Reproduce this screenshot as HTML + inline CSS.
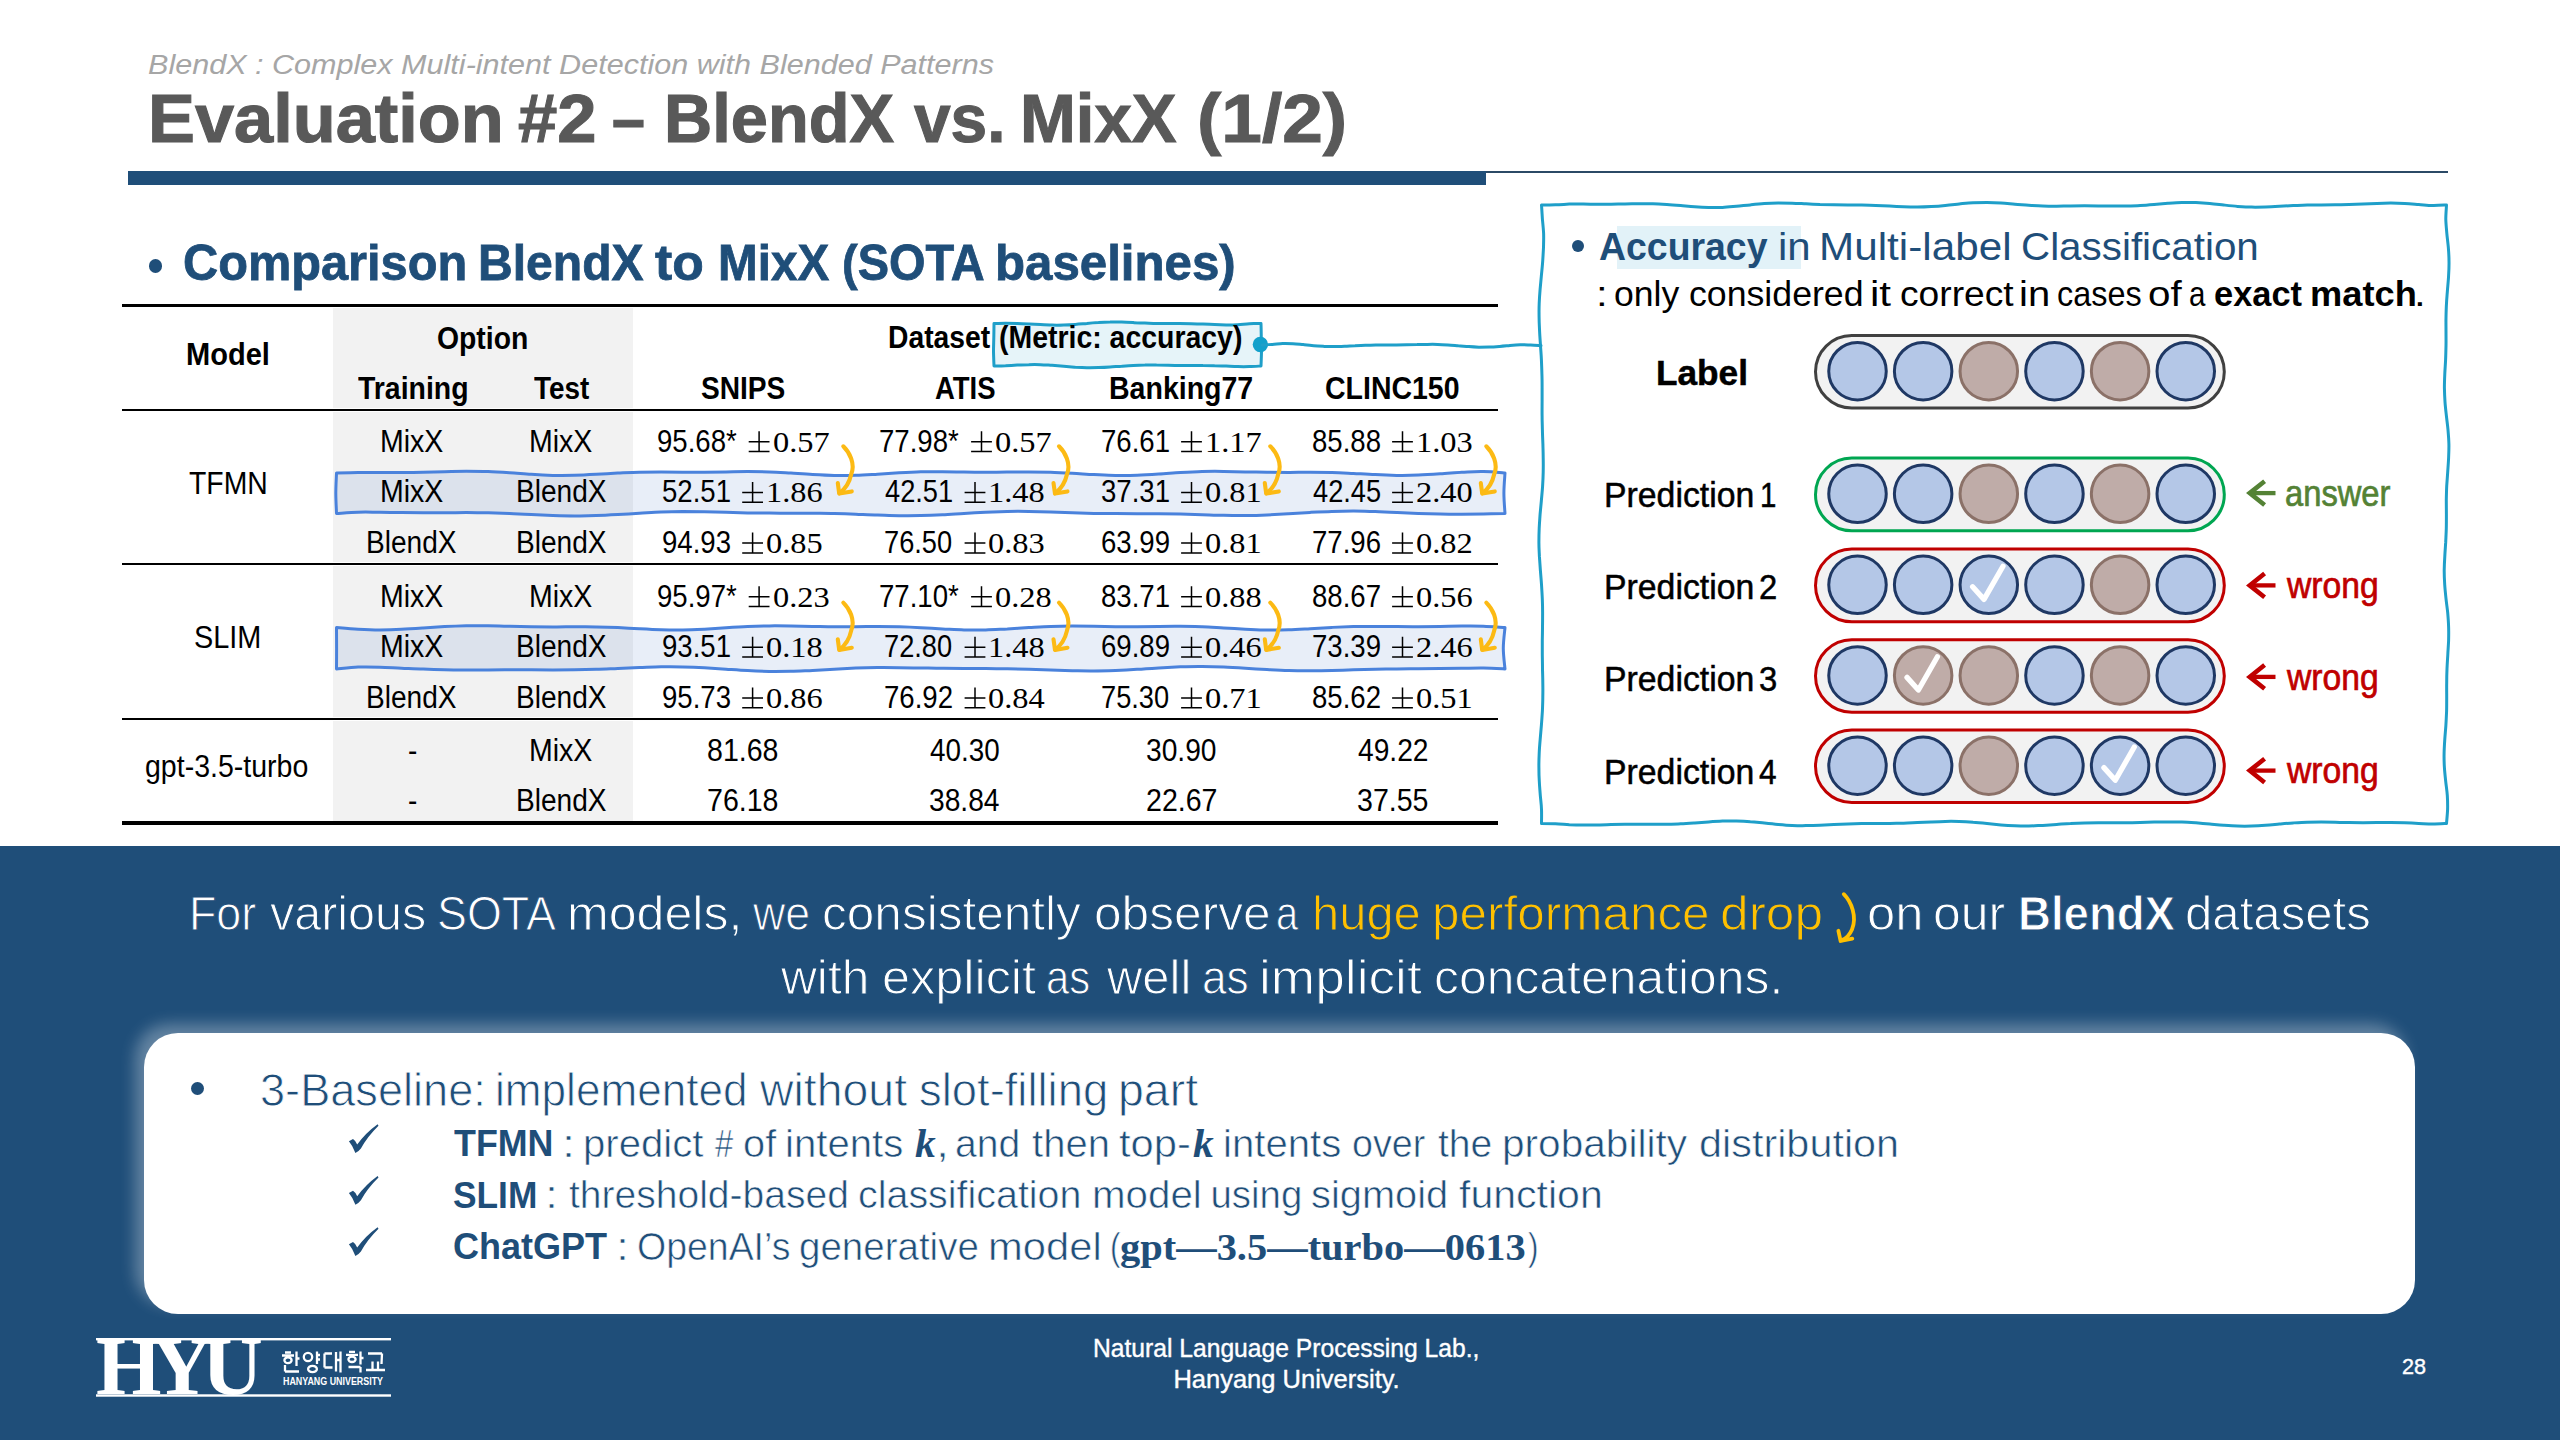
<!DOCTYPE html>
<html lang="en"><head><meta charset="utf-8"><title>Evaluation #2 – BlendX vs. MixX (1/2)</title>
<style>
html,body{margin:0;padding:0;background:#fff}
body{width:2560px;height:1440px;position:relative;overflow:hidden;font-family:"Liberation Sans",sans-serif}
.t{position:absolute;white-space:nowrap;line-height:1;transform-origin:0 0;display:block}
.se{font-family:"Liberation Serif",serif}
.tk1{-webkit-text-stroke:1.1px #595959}
.tk2{-webkit-text-stroke:0.8px #1f4e79}
.thin-b2{-webkit-text-stroke:0.9px #1f4e79}
.tk3{-webkit-text-stroke:0.7px}
.tk5{-webkit-text-stroke:0.5px}
.tk4{-webkit-text-stroke:0.4px}
.thin-b{-webkit-text-stroke:1px #1f4e79}
.thin-w{-webkit-text-stroke:0.85px #fff}
.thin-w2{-webkit-text-stroke:0.6px #fff}
svg.ov{position:absolute;left:0;top:0}
</style></head><body>
<div style="position:absolute;left:128px;top:170.5px;width:1358px;height:14px;background:#1f4e79"></div>
<div style="position:absolute;left:1486px;top:170.5px;width:962px;height:2px;background:#2b4a66"></div>
<div style="position:absolute;left:148.8px;top:259.4px;width:13.2px;height:13.2px;border-radius:50%;background:#1f4e79"></div>
<div style="position:absolute;left:333px;top:308px;width:299.5px;height:513.6px;background:#f2f2f2"></div>
<div style="position:absolute;left:333px;top:407.65000000000003px;width:299.5px;height:4.6px;background:#fff"></div>
<div style="position:absolute;left:333px;top:561.8499999999999px;width:299.5px;height:4.6px;background:#fff"></div>
<div style="position:absolute;left:333px;top:716.9px;width:299.5px;height:4.6px;background:#fff"></div>
<div style="position:absolute;left:122px;top:303.8px;width:1376px;height:3.3px;background:#000"></div>
<div style="position:absolute;left:122px;top:408.85px;width:1376px;height:2.2px;background:#000"></div>
<div style="position:absolute;left:122px;top:563.05px;width:1376px;height:2.2px;background:#000"></div>
<div style="position:absolute;left:122px;top:718.1px;width:1376px;height:2.2px;background:#000"></div>
<div style="position:absolute;left:122px;top:821.4px;width:1376px;height:3.4px;background:#000"></div>
<div style="position:absolute;left:1617px;top:226.3px;width:183.7px;height:43.2px;background:#e2f2f8"></div>
<div style="position:absolute;left:1572px;top:240.2px;width:11.8px;height:11.8px;border-radius:50%;background:#1f4e79"></div>
<div style="position:absolute;left:0;top:845.7px;width:2560px;height:594.3px;background:#1f4e79"></div>
<div style="position:absolute;left:143.8px;top:1032.8px;width:2271.4px;height:281.2px;border-radius:34px;background:#fff;box-shadow:-9px -9px 15px 0 rgba(255,255,255,.31)"></div>
<div style="position:absolute;left:191.2px;top:1082.3px;width:12.9px;height:12.9px;border-radius:50%;background:#1f4e79"></div>
<svg class="ov" width="2560" height="1440" viewBox="0 0 2560 1440">
<path d="M1541.5 205.0C1543.8 205.0 1550.8 205.0 1555.4 204.8C1560.1 204.7 1564.7 204.3 1569.3 204.1C1574.0 204.0 1578.6 204.0 1583.3 204.1C1587.9 204.1 1592.6 204.2 1597.2 204.2C1601.8 204.2 1606.5 204.2 1611.1 204.2C1615.8 204.2 1620.4 204.0 1625.0 204.0C1629.7 203.9 1634.3 203.8 1639.0 203.7C1643.6 203.7 1648.2 203.7 1652.9 203.8C1657.5 203.9 1662.2 204.2 1666.8 204.5C1671.4 204.8 1676.1 205.2 1680.7 205.6C1685.4 206.0 1690.0 206.5 1694.7 206.8C1699.3 207.2 1703.9 207.5 1708.6 207.6C1713.2 207.6 1717.9 207.6 1722.5 207.4C1727.1 207.2 1731.8 206.7 1736.4 206.3C1741.1 205.9 1745.7 205.3 1750.3 204.9C1755.0 204.4 1759.6 203.9 1764.3 203.6C1768.9 203.3 1773.6 203.1 1778.2 203.0C1782.8 203.0 1787.5 203.1 1792.1 203.2C1796.8 203.3 1801.4 203.6 1806.0 203.8C1810.7 204.0 1815.3 204.3 1820.0 204.5C1824.6 204.6 1829.2 204.7 1833.9 204.8C1838.5 204.9 1843.2 204.9 1847.8 204.9C1852.4 205.0 1857.1 204.9 1861.7 205.0C1866.4 205.1 1871.0 205.2 1875.7 205.4C1880.3 205.6 1884.9 205.9 1889.6 206.1C1894.2 206.3 1898.9 206.6 1903.5 206.8C1908.1 207.0 1912.8 207.1 1917.4 207.1C1922.1 207.1 1926.7 206.9 1931.3 206.6C1936.0 206.3 1940.6 205.9 1945.3 205.4C1949.9 205.0 1954.6 204.4 1959.2 203.9C1963.8 203.5 1968.5 203.0 1973.1 202.8C1977.8 202.5 1982.4 202.4 1987.0 202.4C1991.7 202.5 1996.3 202.7 2001.0 203.0C2005.6 203.3 2010.2 203.8 2014.9 204.2C2019.5 204.5 2024.2 205.0 2028.8 205.3C2033.4 205.6 2038.1 205.9 2042.7 206.0C2047.4 206.2 2052.0 206.2 2056.7 206.2C2061.3 206.2 2065.9 206.0 2070.6 206.0C2075.2 205.9 2079.9 205.8 2084.5 205.8C2089.1 205.8 2093.8 205.8 2098.4 205.9C2103.1 205.9 2107.7 206.0 2112.3 206.1C2117.0 206.1 2121.6 206.1 2126.3 206.0C2130.9 205.9 2135.6 205.8 2140.2 205.5C2144.8 205.3 2149.5 204.9 2154.1 204.5C2158.8 204.1 2163.4 203.7 2168.0 203.3C2172.7 203.0 2177.3 202.7 2182.0 202.5C2186.6 202.4 2191.2 202.4 2195.9 202.6C2200.5 202.8 2205.2 203.1 2209.8 203.5C2214.4 203.9 2219.1 204.5 2223.7 205.0C2228.4 205.5 2233.0 206.0 2237.7 206.4C2242.3 206.7 2246.9 207.0 2251.6 207.1C2256.2 207.2 2260.9 207.1 2265.5 207.0C2270.1 206.9 2274.8 206.6 2279.4 206.3C2284.1 206.1 2288.7 205.8 2293.3 205.6C2298.0 205.3 2302.6 205.2 2307.3 205.0C2311.9 204.9 2316.6 204.9 2321.2 204.9C2325.8 204.8 2330.5 204.8 2335.1 204.8C2339.8 204.8 2344.4 204.7 2349.0 204.6C2353.7 204.4 2358.3 204.2 2363.0 204.0C2367.6 203.8 2372.2 203.6 2376.9 203.4C2381.5 203.2 2386.2 203.1 2390.8 203.1C2395.4 203.1 2400.1 203.2 2404.7 203.4C2409.4 203.6 2414.0 204.1 2418.7 204.5C2423.3 204.8 2427.9 205.4 2432.6 205.5C2437.2 205.6 2444.2 205.1 2446.5 205.0L2446.5 205.0C2446.4 207.3 2445.8 214.4 2445.8 219.1C2445.9 223.7 2446.4 228.4 2446.8 233.1C2447.2 237.8 2447.9 242.5 2448.3 247.2C2448.7 251.9 2449.0 256.5 2449.0 261.2C2449.1 265.9 2448.9 270.6 2448.6 275.3C2448.4 280.0 2447.9 284.7 2447.5 289.3C2447.2 294.0 2446.7 298.7 2446.5 303.4C2446.2 308.1 2446.1 312.8 2446.0 317.5C2445.9 322.1 2446.0 326.8 2446.0 331.5C2446.0 336.2 2446.1 340.9 2446.0 345.6C2445.9 350.3 2445.8 354.9 2445.6 359.6C2445.4 364.3 2445.0 369.0 2444.8 373.7C2444.6 378.4 2444.4 383.1 2444.4 387.7C2444.5 392.4 2444.7 397.1 2445.0 401.8C2445.3 406.5 2445.9 411.2 2446.4 415.9C2446.9 420.5 2447.6 425.2 2448.0 429.9C2448.4 434.6 2448.8 439.3 2448.9 444.0C2449.0 448.7 2448.8 453.3 2448.6 458.0C2448.4 462.7 2448.0 467.4 2447.7 472.1C2447.4 476.8 2447.0 481.5 2446.7 486.1C2446.5 490.8 2446.4 495.5 2446.3 500.2C2446.3 504.9 2446.4 509.6 2446.4 514.2C2446.4 518.9 2446.4 523.6 2446.3 528.3C2446.2 533.0 2445.9 537.7 2445.7 542.4C2445.4 547.0 2445.0 551.7 2444.8 556.4C2444.5 561.1 2444.3 565.8 2444.2 570.5C2444.2 575.2 2444.4 579.8 2444.7 584.5C2445.0 589.2 2445.5 593.9 2446.0 598.6C2446.5 603.3 2447.2 608.0 2447.7 612.6C2448.1 617.3 2448.5 622.0 2448.6 626.7C2448.8 631.4 2448.7 636.1 2448.6 640.8C2448.4 645.4 2448.0 650.1 2447.8 654.8C2447.5 659.5 2447.2 664.2 2447.0 668.9C2446.8 673.6 2446.7 678.2 2446.7 682.9C2446.6 687.6 2446.7 692.3 2446.7 697.0C2446.7 701.7 2446.7 706.4 2446.6 711.0C2446.4 715.7 2446.2 720.4 2445.9 725.1C2445.6 729.8 2445.1 734.5 2444.8 739.2C2444.5 743.8 2444.2 748.5 2444.1 753.2C2444.0 757.9 2444.1 762.6 2444.4 767.3C2444.7 772.0 2445.2 776.6 2445.7 781.3C2446.2 786.0 2447.0 790.7 2447.3 795.4C2447.6 800.1 2447.7 804.8 2447.6 809.4C2447.4 814.1 2446.7 821.2 2446.5 823.5L2446.5 823.5C2444.2 823.6 2437.2 824.0 2432.6 824.0C2427.9 824.0 2423.3 823.6 2418.7 823.4C2414.0 823.2 2409.4 822.9 2404.7 822.7C2400.1 822.6 2395.4 822.5 2390.8 822.5C2386.2 822.5 2381.5 822.6 2376.9 822.6C2372.2 822.6 2367.6 822.7 2363.0 822.7C2358.3 822.7 2353.7 822.7 2349.0 822.6C2344.4 822.6 2339.8 822.4 2335.1 822.3C2330.5 822.2 2325.8 822.1 2321.2 822.1C2316.6 822.1 2311.9 822.1 2307.3 822.2C2302.6 822.3 2298.0 822.6 2293.3 822.9C2288.7 823.2 2284.1 823.6 2279.4 824.0C2274.8 824.4 2270.1 824.9 2265.5 825.2C2260.9 825.6 2256.2 825.9 2251.6 826.0C2246.9 826.2 2242.3 826.2 2237.7 826.0C2233.0 825.9 2228.4 825.6 2223.7 825.3C2219.1 825.0 2214.4 824.5 2209.8 824.1C2205.2 823.7 2200.5 823.2 2195.9 822.8C2191.2 822.5 2186.6 822.2 2182.0 822.1C2177.3 821.9 2172.7 821.9 2168.0 821.9C2163.4 821.9 2158.8 822.0 2154.1 822.1C2149.5 822.3 2144.8 822.4 2140.2 822.6C2135.6 822.7 2130.9 822.8 2126.3 822.8C2121.6 822.9 2117.0 822.8 2112.3 822.8C2107.7 822.8 2103.1 822.7 2098.4 822.8C2093.8 822.8 2089.1 822.8 2084.5 822.9C2079.9 823.0 2075.2 823.2 2070.6 823.5C2065.9 823.7 2061.3 824.1 2056.7 824.4C2052.0 824.7 2047.4 825.1 2042.7 825.4C2038.1 825.6 2033.4 825.9 2028.8 826.0C2024.2 826.0 2019.5 826.0 2014.9 825.8C2010.2 825.6 2005.6 825.3 2001.0 824.9C1996.3 824.5 1991.7 824.0 1987.0 823.6C1982.4 823.1 1977.8 822.6 1973.1 822.3C1968.5 821.9 1963.8 821.6 1959.2 821.5C1954.6 821.3 1949.9 821.3 1945.3 821.4C1940.6 821.5 1936.0 821.7 1931.3 821.9C1926.7 822.1 1922.1 822.4 1917.4 822.6C1912.8 822.8 1908.1 823.1 1903.5 823.2C1898.9 823.3 1894.2 823.4 1889.6 823.5C1884.9 823.5 1880.3 823.5 1875.7 823.5C1871.0 823.5 1866.4 823.5 1861.7 823.6C1857.1 823.7 1852.4 823.8 1847.8 823.9C1843.2 824.1 1838.5 824.4 1833.9 824.6C1829.2 824.8 1824.6 825.1 1820.0 825.3C1815.3 825.5 1810.7 825.6 1806.0 825.6C1801.4 825.7 1796.8 825.6 1792.1 825.4C1787.5 825.2 1782.8 824.8 1778.2 824.4C1773.6 824.0 1768.9 823.5 1764.3 823.0C1759.6 822.6 1755.0 822.1 1750.3 821.8C1745.7 821.4 1741.1 821.2 1736.4 821.1C1731.8 821.0 1727.1 821.0 1722.5 821.1C1717.9 821.3 1713.2 821.6 1708.6 821.9C1703.9 822.2 1699.3 822.6 1694.7 822.9C1690.0 823.2 1685.4 823.5 1680.7 823.7C1676.1 824.0 1671.4 824.1 1666.8 824.2C1662.2 824.3 1657.5 824.2 1652.9 824.2C1648.2 824.2 1643.6 824.2 1639.0 824.2C1634.3 824.2 1629.7 824.2 1625.0 824.2C1620.4 824.3 1615.8 824.4 1611.1 824.5C1606.5 824.7 1601.8 824.9 1597.2 825.0C1592.6 825.0 1587.9 825.2 1583.3 825.1C1578.6 825.1 1574.0 825.0 1569.3 824.8C1564.7 824.5 1560.1 823.9 1555.4 823.7C1550.8 823.5 1543.8 823.5 1541.5 823.5L1541.5 823.5C1541.5 821.2 1541.7 814.1 1541.5 809.4C1541.4 804.8 1540.7 800.1 1540.3 795.4C1540.0 790.7 1539.5 786.0 1539.3 781.3C1539.0 776.6 1538.9 772.0 1538.9 767.3C1538.8 762.6 1539.0 757.9 1539.2 753.2C1539.4 748.5 1539.8 743.8 1540.2 739.2C1540.6 734.5 1541.0 729.8 1541.4 725.1C1541.8 720.4 1542.1 715.7 1542.4 711.0C1542.6 706.4 1542.8 701.7 1542.8 697.0C1542.9 692.3 1542.9 687.6 1542.8 682.9C1542.8 678.2 1542.6 673.6 1542.5 668.9C1542.5 664.2 1542.4 659.5 1542.3 654.8C1542.3 650.1 1542.3 645.4 1542.3 640.8C1542.4 636.1 1542.5 631.4 1542.5 626.7C1542.6 622.0 1542.6 617.3 1542.6 612.6C1542.6 608.0 1542.5 603.3 1542.3 598.6C1542.1 593.9 1541.8 589.2 1541.5 584.5C1541.2 579.8 1540.8 575.2 1540.4 570.5C1540.1 565.8 1539.7 561.1 1539.4 556.4C1539.2 551.7 1538.9 547.0 1538.9 542.4C1538.9 537.7 1539.0 533.0 1539.2 528.3C1539.4 523.6 1539.8 518.9 1540.1 514.2C1540.5 509.6 1541.0 504.9 1541.4 500.2C1541.8 495.5 1542.3 490.8 1542.6 486.1C1542.9 481.5 1543.1 476.8 1543.2 472.1C1543.3 467.4 1543.3 462.7 1543.2 458.0C1543.2 453.3 1543.0 448.7 1542.9 444.0C1542.7 439.3 1542.5 434.6 1542.4 429.9C1542.3 425.2 1542.1 420.5 1542.1 415.9C1542.0 411.2 1542.1 406.5 1542.1 401.8C1542.1 397.1 1542.1 392.4 1542.1 387.7C1542.1 383.1 1542.1 378.4 1541.9 373.7C1541.8 369.0 1541.6 364.3 1541.4 359.6C1541.2 354.9 1540.8 350.3 1540.5 345.6C1540.2 340.9 1539.8 336.2 1539.6 331.5C1539.4 326.8 1539.1 322.1 1539.1 317.5C1539.0 312.8 1539.0 308.1 1539.2 303.4C1539.4 298.7 1539.7 294.0 1540.1 289.3C1540.5 284.7 1541.0 280.0 1541.4 275.3C1541.9 270.6 1542.4 265.9 1542.7 261.2C1543.0 256.5 1543.3 251.9 1543.5 247.2C1543.6 242.5 1543.8 237.8 1543.6 233.1C1543.4 228.4 1542.8 223.7 1542.4 219.1C1542.1 214.4 1541.7 207.3 1541.5 205.0Z" fill="none" stroke="#1f9fc9" stroke-width="3" stroke-linecap="round" stroke-linejoin="round" />
<path d="M994.0 323.5C995.9 323.5 1001.7 323.3 1005.6 323.3C1009.5 323.3 1013.3 323.3 1017.2 323.4C1021.1 323.5 1025.0 323.7 1028.8 323.9C1032.7 324.1 1036.6 324.4 1040.4 324.6C1044.3 324.8 1048.2 325.0 1052.0 325.1C1055.9 325.2 1059.8 325.2 1063.7 325.0C1067.5 324.9 1071.4 324.7 1075.3 324.4C1079.1 324.2 1083.0 323.8 1086.9 323.5C1090.7 323.1 1094.6 322.8 1098.5 322.6C1102.3 322.3 1106.2 322.1 1110.1 322.1C1114.0 322.0 1117.8 322.1 1121.7 322.1C1125.6 322.2 1129.4 322.4 1133.3 322.6C1137.2 322.8 1141.0 323.0 1144.9 323.1C1148.8 323.2 1152.7 323.4 1156.5 323.4C1160.4 323.5 1164.3 323.5 1168.1 323.5C1172.0 323.5 1175.9 323.5 1179.7 323.5C1183.6 323.6 1187.5 323.6 1191.3 323.7C1195.2 323.8 1199.1 324.0 1203.0 324.1C1206.8 324.3 1210.7 324.5 1214.6 324.6C1218.4 324.8 1222.3 324.9 1226.2 324.9C1230.0 324.9 1233.9 324.9 1237.8 324.7C1241.7 324.5 1245.5 323.9 1249.4 323.7C1253.3 323.6 1259.1 323.5 1261.0 323.5L1261.0 323.5C1261.1 325.9 1261.2 332.9 1261.3 337.7C1261.4 342.4 1261.5 347.1 1261.5 351.8C1261.4 356.6 1261.1 363.6 1261.0 366.0L1261.0 366.0C1259.1 366.1 1253.3 366.5 1249.4 366.6C1245.5 366.7 1241.7 366.7 1237.8 366.6C1233.9 366.5 1230.0 366.2 1226.2 366.0C1222.3 365.9 1218.4 365.7 1214.6 365.7C1210.7 365.6 1206.8 365.6 1203.0 365.6C1199.1 365.5 1195.2 365.6 1191.3 365.6C1187.5 365.6 1183.6 365.5 1179.7 365.5C1175.9 365.5 1172.0 365.4 1168.1 365.3C1164.3 365.2 1160.4 365.1 1156.5 365.1C1152.7 365.0 1148.8 365.0 1144.9 365.1C1141.0 365.1 1137.2 365.2 1133.3 365.4C1129.4 365.6 1125.6 365.9 1121.7 366.2C1117.8 366.4 1114.0 366.8 1110.1 367.0C1106.2 367.3 1102.3 367.5 1098.5 367.6C1094.6 367.7 1090.7 367.8 1086.9 367.7C1083.0 367.6 1079.1 367.4 1075.3 367.2C1071.4 366.9 1067.5 366.5 1063.7 366.2C1059.8 365.9 1055.9 365.6 1052.0 365.3C1048.2 365.1 1044.3 364.8 1040.4 364.7C1036.6 364.6 1032.7 364.6 1028.8 364.7C1025.0 364.7 1021.1 364.9 1017.2 365.1C1013.3 365.3 1009.5 365.6 1005.6 365.8C1001.7 365.9 995.9 366.0 994.0 366.0L994.0 366.0C993.9 363.6 993.6 356.6 993.5 351.8C993.5 347.1 993.7 342.4 993.8 337.7C993.9 332.9 994.0 325.9 994.0 323.5Z" fill="rgba(31,159,201,0.11)" stroke="#1f9fc9" stroke-width="3" stroke-linecap="round" stroke-linejoin="round" />
<circle cx="1260.4" cy="344.5" r="7.7" fill="#12a0cb"/>
<path d="M1262.0 345.0C1263.7 344.9 1268.9 344.6 1272.3 344.4C1275.8 344.2 1279.2 343.7 1282.7 343.6C1286.1 343.5 1289.6 343.6 1293.0 343.7C1296.4 343.9 1299.9 344.3 1303.3 344.6C1306.8 345.0 1310.2 345.4 1313.7 345.7C1317.1 346.0 1320.6 346.2 1324.0 346.4C1327.4 346.5 1330.9 346.6 1334.3 346.6C1337.8 346.6 1341.2 346.4 1344.7 346.3C1348.1 346.2 1351.6 345.9 1355.0 345.8C1358.4 345.6 1361.9 345.4 1365.3 345.3C1368.8 345.2 1372.2 345.1 1375.7 345.0C1379.1 345.0 1382.6 345.0 1386.0 344.9C1389.4 344.9 1392.9 344.9 1396.3 344.9C1399.8 344.9 1403.2 344.9 1406.7 344.8C1410.1 344.7 1413.6 344.6 1417.0 344.6C1420.4 344.5 1423.9 344.4 1427.3 344.4C1430.8 344.3 1434.2 344.3 1437.7 344.4C1441.1 344.5 1444.6 344.7 1448.0 344.9C1451.4 345.1 1454.9 345.5 1458.3 345.8C1461.8 346.0 1465.2 346.4 1468.7 346.6C1472.1 346.9 1475.6 347.1 1479.0 347.2C1482.4 347.2 1485.9 347.2 1489.3 347.1C1492.8 347.0 1496.2 346.7 1499.7 346.4C1503.1 346.2 1506.6 345.8 1510.0 345.5C1513.4 345.2 1516.9 344.9 1520.3 344.8C1523.8 344.7 1527.2 344.9 1530.7 345.0C1534.1 345.1 1539.3 345.5 1541.0 345.6" fill="none" stroke="#1f9fc9" stroke-width="3" stroke-linecap="round" stroke-linejoin="round" />
<path d="M336.5 473.0C340.1 472.9 350.9 472.7 358.1 472.6C365.4 472.5 372.6 472.4 379.8 472.4C387.0 472.4 394.2 472.5 401.4 472.5C408.6 472.4 415.8 472.4 423.1 472.2C430.3 472.1 437.5 471.8 444.7 471.7C451.9 471.5 459.1 471.3 466.3 471.3C473.5 471.3 480.8 471.3 488.0 471.6C495.2 471.8 502.4 472.3 509.6 472.8C516.8 473.2 524.0 473.9 531.2 474.3C538.5 474.8 545.7 475.2 552.9 475.4C560.1 475.5 567.3 475.5 574.5 475.3C581.7 475.1 589.0 474.7 596.2 474.3C603.4 473.9 610.6 473.4 617.8 473.0C625.0 472.7 632.2 472.3 639.4 472.2C646.7 472.0 653.9 472.0 661.1 472.0C668.3 472.1 675.5 472.2 682.7 472.2C689.9 472.2 697.1 472.3 704.4 472.2C711.6 472.1 718.8 472.0 726.0 471.9C733.2 471.8 740.4 471.6 747.6 471.6C754.9 471.6 762.1 471.7 769.3 471.9C776.5 472.1 783.7 472.6 790.9 473.0C798.1 473.5 805.3 474.1 812.6 474.5C819.8 474.9 827.0 475.3 834.2 475.4C841.4 475.6 848.6 475.5 855.8 475.3C863.0 475.1 870.3 474.6 877.5 474.2C884.7 473.8 891.9 473.2 899.1 472.8C906.3 472.4 913.5 472.0 920.8 471.8C928.0 471.7 935.2 471.7 942.4 471.7C949.6 471.7 956.8 471.9 964.0 472.0C971.2 472.1 978.5 472.2 985.7 472.2C992.9 472.2 1000.1 472.1 1007.3 472.1C1014.5 472.0 1021.7 471.9 1028.9 471.9C1036.2 471.9 1043.4 472.0 1050.6 472.2C1057.8 472.4 1065.0 472.8 1072.2 473.2C1079.4 473.6 1086.6 474.2 1093.9 474.6C1101.1 474.9 1108.3 475.3 1115.5 475.4C1122.7 475.6 1129.9 475.5 1137.1 475.2C1144.4 475.0 1151.6 474.5 1158.8 474.0C1166.0 473.6 1173.2 472.9 1180.4 472.5C1187.6 472.1 1194.8 471.7 1202.1 471.5C1209.3 471.3 1216.5 471.3 1223.7 471.4C1230.9 471.5 1238.1 471.7 1245.3 471.9C1252.5 472.0 1259.8 472.2 1267.0 472.3C1274.2 472.4 1281.4 472.4 1288.6 472.4C1295.8 472.4 1303.0 472.3 1310.2 472.3C1317.5 472.3 1324.7 472.4 1331.9 472.6C1339.1 472.7 1346.3 473.1 1353.5 473.4C1360.7 473.8 1368.0 474.3 1375.2 474.6C1382.4 475.0 1389.6 475.3 1396.8 475.4C1404.0 475.5 1411.2 475.4 1418.4 475.1C1425.7 474.8 1432.9 474.3 1440.1 473.8C1447.3 473.4 1454.5 472.6 1461.7 472.2C1468.9 471.9 1476.1 471.3 1483.4 471.5C1490.6 471.6 1501.4 472.7 1505.0 473.0L1505.0 473.0C1504.8 476.4 1503.9 486.5 1503.9 493.2C1503.9 500.0 1504.8 510.1 1505.0 513.5L1505.0 513.5C1501.4 513.6 1490.6 513.9 1483.4 514.0C1476.1 514.1 1468.9 514.2 1461.7 514.2C1454.5 514.2 1447.3 514.2 1440.1 514.0C1432.9 513.9 1425.7 513.7 1418.4 513.5C1411.2 513.2 1404.0 512.9 1396.8 512.6C1389.6 512.2 1382.4 511.8 1375.2 511.6C1368.0 511.4 1360.7 511.1 1353.5 511.1C1346.3 511.1 1339.1 511.2 1331.9 511.4C1324.7 511.6 1317.5 512.0 1310.2 512.4C1303.0 512.8 1295.8 513.3 1288.6 513.8C1281.4 514.2 1274.2 514.6 1267.0 514.9C1259.8 515.2 1252.5 515.4 1245.3 515.5C1238.1 515.5 1230.9 515.5 1223.7 515.3C1216.5 515.2 1209.3 514.9 1202.1 514.7C1194.8 514.5 1187.6 514.3 1180.4 514.1C1173.2 513.9 1166.0 513.8 1158.8 513.7C1151.6 513.7 1144.4 513.7 1137.1 513.7C1129.9 513.7 1122.7 513.7 1115.5 513.6C1108.3 513.6 1101.1 513.5 1093.9 513.4C1086.6 513.2 1079.4 513.0 1072.2 512.8C1065.0 512.5 1057.8 512.2 1050.6 512.0C1043.4 511.7 1036.2 511.5 1028.9 511.4C1021.7 511.3 1014.5 511.3 1007.3 511.4C1000.1 511.6 992.9 511.9 985.7 512.2C978.5 512.6 971.2 513.1 964.0 513.5C956.8 513.9 949.6 514.5 942.4 514.8C935.2 515.2 928.0 515.5 920.8 515.6C913.5 515.8 906.3 515.8 899.1 515.7C891.9 515.6 884.7 515.3 877.5 515.1C870.3 514.9 863.0 514.5 855.8 514.2C848.6 514.0 841.4 513.7 834.2 513.5C827.0 513.3 819.8 513.3 812.6 513.2C805.3 513.1 798.1 513.2 790.9 513.2C783.7 513.1 776.5 513.2 769.3 513.1C762.1 513.1 754.9 513.0 747.6 512.9C740.4 512.7 733.2 512.5 726.0 512.3C718.8 512.1 711.6 511.9 704.4 511.8C697.1 511.7 689.9 511.6 682.7 511.6C675.5 511.7 668.3 511.9 661.1 512.1C653.9 512.4 646.7 512.9 639.4 513.3C632.2 513.7 625.0 514.2 617.8 514.6C610.6 515.0 603.4 515.4 596.2 515.6C589.0 515.9 581.7 516.0 574.5 515.9C567.3 515.9 560.1 515.7 552.9 515.5C545.7 515.2 538.5 514.8 531.2 514.5C524.0 514.1 516.8 513.7 509.6 513.5C502.4 513.2 495.2 513.0 488.0 512.8C480.8 512.7 473.5 512.7 466.3 512.6C459.1 512.6 451.9 512.7 444.7 512.7C437.5 512.8 430.3 512.8 423.1 512.8C415.8 512.8 408.6 512.7 401.4 512.6C394.2 512.5 387.0 512.3 379.8 512.2C372.6 512.2 365.4 512.0 358.1 512.2C350.9 512.4 340.1 513.3 336.5 513.5L336.5 513.5C336.4 510.1 335.8 500.0 335.8 493.2C335.8 486.5 336.4 476.4 336.5 473.0Z" fill="rgba(68,114,196,0.12)" stroke="#4a82dc" stroke-width="3" stroke-linecap="round" stroke-linejoin="round" />
<path d="M336.5 627.5C340.1 627.8 350.9 628.8 358.1 629.2C365.4 629.6 372.6 629.9 379.8 629.9C387.0 629.9 394.2 629.7 401.4 629.3C408.6 629.0 415.8 628.5 423.1 628.0C430.3 627.6 437.5 627.0 444.7 626.6C451.9 626.2 459.1 625.9 466.3 625.7C473.5 625.6 480.8 625.7 488.0 625.8C495.2 625.8 502.4 626.1 509.6 626.3C516.8 626.5 524.0 626.7 531.2 626.8C538.5 626.9 545.7 626.9 552.9 626.9C560.1 627.0 567.3 626.8 574.5 626.8C581.7 626.8 589.0 626.8 596.2 626.9C603.4 627.1 610.6 627.3 617.8 627.6C625.0 627.9 632.2 628.4 639.4 628.7C646.7 629.1 653.9 629.5 661.1 629.7C668.3 629.9 675.5 630.0 682.7 629.9C689.9 629.8 697.1 629.5 704.4 629.2C711.6 628.8 718.8 628.2 726.0 627.8C733.2 627.3 740.4 626.8 747.6 626.5C754.9 626.2 762.1 626.0 769.3 625.9C776.5 625.8 783.7 625.9 790.9 626.0C798.1 626.1 805.3 626.4 812.6 626.5C819.8 626.6 827.0 626.8 834.2 626.8C841.4 626.8 848.6 626.7 855.8 626.7C863.0 626.6 870.3 626.5 877.5 626.5C884.7 626.5 891.9 626.6 899.1 626.8C906.3 627.0 913.5 627.3 920.8 627.7C928.0 628.1 935.2 628.6 942.4 629.0C949.6 629.3 956.8 629.7 964.0 629.9C971.2 630.0 978.5 630.1 985.7 629.9C992.9 629.7 1000.1 629.3 1007.3 629.0C1014.5 628.6 1021.7 628.0 1028.9 627.6C1036.2 627.2 1043.4 626.7 1050.6 626.5C1057.8 626.3 1065.0 626.2 1072.2 626.1C1079.4 626.1 1086.6 626.3 1093.9 626.3C1101.1 626.4 1108.3 626.6 1115.5 626.7C1122.7 626.7 1129.9 626.7 1137.1 626.7C1144.4 626.6 1151.6 626.5 1158.8 626.4C1166.0 626.3 1173.2 626.2 1180.4 626.3C1187.6 626.3 1194.8 626.5 1202.1 626.7C1209.3 627.0 1216.5 627.5 1223.7 627.9C1230.9 628.3 1238.1 628.8 1245.3 629.2C1252.5 629.5 1259.8 629.9 1267.0 630.0C1274.2 630.1 1281.4 630.0 1288.6 629.8C1295.8 629.6 1303.0 629.1 1310.2 628.7C1317.5 628.3 1324.7 627.8 1331.9 627.4C1339.1 627.1 1346.3 626.8 1353.5 626.6C1360.7 626.4 1368.0 626.4 1375.2 626.4C1382.4 626.4 1389.6 626.6 1396.8 626.6C1404.0 626.7 1411.2 626.8 1418.4 626.7C1425.7 626.7 1432.9 626.6 1440.1 626.5C1447.3 626.4 1454.5 626.1 1461.7 626.1C1468.9 626.0 1476.1 626.0 1483.4 626.2C1490.6 626.5 1501.4 627.3 1505.0 627.5L1505.0 627.5C1504.7 631.0 1503.3 641.3 1503.3 648.2C1503.3 655.2 1504.7 665.5 1505.0 669.0L1505.0 669.0C1501.4 668.8 1490.6 668.1 1483.4 668.0C1476.1 667.9 1468.9 668.2 1461.7 668.3C1454.5 668.4 1447.3 668.5 1440.1 668.6C1432.9 668.7 1425.7 668.7 1418.4 668.8C1411.2 668.8 1404.0 668.8 1396.8 668.9C1389.6 669.0 1382.4 669.1 1375.2 669.2C1368.0 669.4 1360.7 669.6 1353.5 669.8C1346.3 670.0 1339.1 670.3 1331.9 670.5C1324.7 670.7 1317.5 670.8 1310.2 670.8C1303.0 670.8 1295.8 670.8 1288.6 670.6C1281.4 670.4 1274.2 670.0 1267.0 669.6C1259.8 669.2 1252.5 668.7 1245.3 668.3C1238.1 667.8 1230.9 667.3 1223.7 667.0C1216.5 666.7 1209.3 666.5 1202.1 666.5C1194.8 666.4 1187.6 666.6 1180.4 666.8C1173.2 667.1 1166.0 667.5 1158.8 667.9C1151.6 668.4 1144.4 668.9 1137.1 669.3C1129.9 669.8 1122.7 670.2 1115.5 670.5C1108.3 670.7 1101.1 670.9 1093.9 670.9C1086.6 671.0 1079.4 670.8 1072.2 670.7C1065.0 670.5 1057.8 670.3 1050.6 670.0C1043.4 669.8 1036.2 669.5 1028.9 669.3C1021.7 669.1 1014.5 668.9 1007.3 668.8C1000.1 668.7 992.9 668.7 985.7 668.6C978.5 668.6 971.2 668.6 964.0 668.5C956.8 668.5 949.6 668.4 942.4 668.3C935.2 668.3 928.0 668.1 920.8 668.0C913.5 667.9 906.3 667.7 899.1 667.7C891.9 667.6 884.7 667.5 877.5 667.6C870.3 667.7 863.0 667.9 855.8 668.1C848.6 668.4 841.4 668.8 834.2 669.2C827.0 669.6 819.8 670.0 812.6 670.4C805.3 670.7 798.1 671.1 790.9 671.3C783.7 671.4 776.5 671.5 769.3 671.4C762.1 671.3 754.9 671.0 747.6 670.6C740.4 670.3 733.2 669.7 726.0 669.2C718.8 668.8 711.6 668.2 704.4 667.8C697.1 667.4 689.9 667.1 682.7 666.9C675.5 666.7 668.3 666.7 661.1 666.8C653.9 666.9 646.7 667.2 639.4 667.4C632.2 667.7 625.0 668.1 617.8 668.4C610.6 668.7 603.4 669.1 596.2 669.3C589.0 669.5 581.7 669.7 574.5 669.8C567.3 669.9 560.1 669.9 552.9 669.9C545.7 669.9 538.5 669.9 531.2 669.8C524.0 669.8 516.8 669.8 509.6 669.8C502.4 669.8 495.2 669.8 488.0 669.9C480.8 669.9 473.5 669.9 466.3 669.9C459.1 669.9 451.9 669.9 444.7 669.7C437.5 669.6 430.3 669.4 423.1 669.1C415.8 668.9 408.6 668.5 401.4 668.2C394.2 667.9 387.0 667.4 379.8 667.2C372.6 667.0 365.4 666.8 358.1 667.1C350.9 667.4 340.1 668.7 336.5 669.0L336.5 669.0C336.5 665.5 336.6 655.2 336.6 648.2C336.6 641.3 336.5 631.0 336.5 627.5Z" fill="rgba(68,114,196,0.12)" stroke="#4a82dc" stroke-width="3" stroke-linecap="round" stroke-linejoin="round" />
<path d="M843.3 446.3C849.3 452.3 855.6 463.3 851.2 474.3C849.5 482.3 845.0 489.2 839.5 493.2" fill="none" stroke="#fcba14" stroke-width="4.1" stroke-linecap="round" stroke-linejoin="round" />
<path d="M837.8 483.0L839.2 493.6L851.8 491.4" fill="none" stroke="#fcba14" stroke-width="4.1" stroke-linecap="round" stroke-linejoin="round" />
<path d="M1059.0 446.3C1065.0 452.3 1071.3 463.3 1067.0 474.3C1065.2 482.3 1060.8 489.2 1055.2 493.2" fill="none" stroke="#fcba14" stroke-width="4.1" stroke-linecap="round" stroke-linejoin="round" />
<path d="M1053.5 483.0L1055.0 493.6L1067.5 491.4" fill="none" stroke="#fcba14" stroke-width="4.1" stroke-linecap="round" stroke-linejoin="round" />
<path d="M1270.3 446.3C1276.3 452.3 1282.6 463.3 1278.2 474.3C1276.5 482.3 1272.0 489.2 1266.5 493.2" fill="none" stroke="#fcba14" stroke-width="4.1" stroke-linecap="round" stroke-linejoin="round" />
<path d="M1264.8 483.0L1266.2 493.6L1278.8 491.4" fill="none" stroke="#fcba14" stroke-width="4.1" stroke-linecap="round" stroke-linejoin="round" />
<path d="M1486.3 446.3C1492.3 452.3 1498.6 463.3 1494.2 474.3C1492.5 482.3 1488.0 489.2 1482.5 493.2" fill="none" stroke="#fcba14" stroke-width="4.1" stroke-linecap="round" stroke-linejoin="round" />
<path d="M1480.8 483.0L1482.2 493.6L1494.8 491.4" fill="none" stroke="#fcba14" stroke-width="4.1" stroke-linecap="round" stroke-linejoin="round" />
<path d="M843.3 602.6C849.3 608.6 855.6 619.6 851.2 630.6C849.5 638.6 845.0 645.5 839.5 649.5" fill="none" stroke="#fcba14" stroke-width="4.1" stroke-linecap="round" stroke-linejoin="round" />
<path d="M837.8 639.3L839.2 649.9L851.8 647.7" fill="none" stroke="#fcba14" stroke-width="4.1" stroke-linecap="round" stroke-linejoin="round" />
<path d="M1059.0 602.6C1065.0 608.6 1071.3 619.6 1067.0 630.6C1065.2 638.6 1060.8 645.5 1055.2 649.5" fill="none" stroke="#fcba14" stroke-width="4.1" stroke-linecap="round" stroke-linejoin="round" />
<path d="M1053.5 639.3L1055.0 649.9L1067.5 647.7" fill="none" stroke="#fcba14" stroke-width="4.1" stroke-linecap="round" stroke-linejoin="round" />
<path d="M1270.3 602.6C1276.3 608.6 1282.6 619.6 1278.2 630.6C1276.5 638.6 1272.0 645.5 1266.5 649.5" fill="none" stroke="#fcba14" stroke-width="4.1" stroke-linecap="round" stroke-linejoin="round" />
<path d="M1264.8 639.3L1266.2 649.9L1278.8 647.7" fill="none" stroke="#fcba14" stroke-width="4.1" stroke-linecap="round" stroke-linejoin="round" />
<path d="M1486.3 602.6C1492.3 608.6 1498.6 619.6 1494.2 630.6C1492.5 638.6 1488.0 645.5 1482.5 649.5" fill="none" stroke="#fcba14" stroke-width="4.1" stroke-linecap="round" stroke-linejoin="round" />
<path d="M1480.8 639.3L1482.2 649.9L1494.8 647.7" fill="none" stroke="#fcba14" stroke-width="4.1" stroke-linecap="round" stroke-linejoin="round" />
<path d="M759.10 431.30V451.60M748.70 441.80h20.8M748.70 451.60h20.8M981.50 431.30V451.60M971.10 441.80h20.8M971.10 451.60h20.8M1191.50 431.30V451.60M1181.10 441.80h20.8M1181.10 451.60h20.8M1402.50 431.30V451.60M1392.10 441.80h20.8M1392.10 451.60h20.8M752.60 482.00V502.30M742.20 492.50h20.8M742.20 502.30h20.8M975.00 482.00V502.30M964.60 492.50h20.8M964.60 502.30h20.8M1191.50 482.00V502.30M1181.10 492.50h20.8M1181.10 502.30h20.8M1402.50 482.00V502.30M1392.10 492.50h20.8M1392.10 502.30h20.8M752.60 532.60V552.90M742.20 543.10h20.8M742.20 552.90h20.8M975.00 532.60V552.90M964.60 543.10h20.8M964.60 552.90h20.8M1191.50 532.60V552.90M1181.10 543.10h20.8M1181.10 552.90h20.8M1402.50 532.60V552.90M1392.10 543.10h20.8M1392.10 552.90h20.8M759.10 586.30V606.60M748.70 596.80h20.8M748.70 606.60h20.8M981.50 586.30V606.60M971.10 596.80h20.8M971.10 606.60h20.8M1191.50 586.30V606.60M1181.10 596.80h20.8M1181.10 606.60h20.8M1402.50 586.30V606.60M1392.10 596.80h20.8M1392.10 606.60h20.8M752.60 636.80V657.10M742.20 647.30h20.8M742.20 657.10h20.8M975.00 636.80V657.10M964.60 647.30h20.8M964.60 657.10h20.8M1191.50 636.80V657.10M1181.10 647.30h20.8M1181.10 657.10h20.8M1402.50 636.80V657.10M1392.10 647.30h20.8M1392.10 657.10h20.8M752.60 687.50V707.80M742.20 698.00h20.8M742.20 707.80h20.8M975.00 687.50V707.80M964.60 698.00h20.8M964.60 707.80h20.8M1191.50 687.50V707.80M1181.10 698.00h20.8M1181.10 707.80h20.8M1402.50 687.50V707.80M1392.10 698.00h20.8M1392.10 707.80h20.8" fill="none" stroke="#000" stroke-width="1.5"/>
<path d="M1843.8 894.2C1851.5 902 1857.2 917 1852 929.5C1849.6 935 1846.5 938.6 1841.6 940.4" fill="none" stroke="#ffc000" stroke-width="3.8" stroke-linecap="round" stroke-linejoin="round" />
<path d="M1838.4 930.8L1840.6 941L1852.3 938.6" fill="none" stroke="#ffc000" stroke-width="3.8" stroke-linecap="round" stroke-linejoin="round" />
<rect x="1815.5" y="335.45" width="408.8" height="72.6" rx="36.3" fill="#f2f2f2" stroke="#404040" stroke-width="3"/>
<circle cx="1857.50" cy="371.15" r="28.75" fill="#b4c7e7" stroke="#1f3864" stroke-width="3"/>
<circle cx="1923.15" cy="371.15" r="28.75" fill="#b4c7e7" stroke="#1f3864" stroke-width="3"/>
<circle cx="1988.80" cy="371.15" r="28.75" fill="#bfaca8" stroke="#8b7168" stroke-width="3"/>
<circle cx="2054.45" cy="371.15" r="28.75" fill="#b4c7e7" stroke="#1f3864" stroke-width="3"/>
<circle cx="2120.10" cy="371.15" r="28.75" fill="#bfaca8" stroke="#8b7168" stroke-width="3"/>
<circle cx="2185.75" cy="371.15" r="28.75" fill="#b4c7e7" stroke="#1f3864" stroke-width="3"/>
<rect x="1815.5" y="458.10" width="408.8" height="72.6" rx="36.3" fill="#f2f2f2" stroke="#00a651" stroke-width="3"/>
<circle cx="1857.50" cy="493.80" r="28.75" fill="#b4c7e7" stroke="#1f3864" stroke-width="3"/>
<circle cx="1923.15" cy="493.80" r="28.75" fill="#b4c7e7" stroke="#1f3864" stroke-width="3"/>
<circle cx="1988.80" cy="493.80" r="28.75" fill="#bfaca8" stroke="#8b7168" stroke-width="3"/>
<circle cx="2054.45" cy="493.80" r="28.75" fill="#b4c7e7" stroke="#1f3864" stroke-width="3"/>
<circle cx="2120.10" cy="493.80" r="28.75" fill="#bfaca8" stroke="#8b7168" stroke-width="3"/>
<circle cx="2185.75" cy="493.80" r="28.75" fill="#b4c7e7" stroke="#1f3864" stroke-width="3"/>
<rect x="1815.5" y="549.10" width="408.8" height="72.6" rx="36.3" fill="#f2f2f2" stroke="#c00000" stroke-width="3"/>
<circle cx="1857.50" cy="584.80" r="28.75" fill="#b4c7e7" stroke="#1f3864" stroke-width="3"/>
<circle cx="1923.15" cy="584.80" r="28.75" fill="#b4c7e7" stroke="#1f3864" stroke-width="3"/>
<circle cx="1988.80" cy="584.80" r="28.75" fill="#b4c7e7" stroke="#1f3864" stroke-width="3"/>
<circle cx="2054.45" cy="584.80" r="28.75" fill="#b4c7e7" stroke="#1f3864" stroke-width="3"/>
<circle cx="2120.10" cy="584.80" r="28.75" fill="#bfaca8" stroke="#8b7168" stroke-width="3"/>
<circle cx="2185.75" cy="584.80" r="28.75" fill="#b4c7e7" stroke="#1f3864" stroke-width="3"/>
<path d="M1972.6 586.8L1984.0 599.4L2003.0 566.2" fill="none" stroke="#fff" stroke-width="5.3" stroke-linecap="round" stroke-linejoin="round" />
<rect x="1815.5" y="639.70" width="408.8" height="72.6" rx="36.3" fill="#f2f2f2" stroke="#c00000" stroke-width="3"/>
<circle cx="1857.50" cy="675.40" r="28.75" fill="#b4c7e7" stroke="#1f3864" stroke-width="3"/>
<circle cx="1923.15" cy="675.40" r="28.75" fill="#bfaca8" stroke="#8b7168" stroke-width="3"/>
<circle cx="1988.80" cy="675.40" r="28.75" fill="#bfaca8" stroke="#8b7168" stroke-width="3"/>
<circle cx="2054.45" cy="675.40" r="28.75" fill="#b4c7e7" stroke="#1f3864" stroke-width="3"/>
<circle cx="2120.10" cy="675.40" r="28.75" fill="#bfaca8" stroke="#8b7168" stroke-width="3"/>
<circle cx="2185.75" cy="675.40" r="28.75" fill="#b4c7e7" stroke="#1f3864" stroke-width="3"/>
<path d="M1907.0 677.4L1918.4 690.0L1937.4 656.8" fill="none" stroke="#fff" stroke-width="5.3" stroke-linecap="round" stroke-linejoin="round" />
<rect x="1815.5" y="729.95" width="408.8" height="72.6" rx="36.3" fill="#f2f2f2" stroke="#c00000" stroke-width="3"/>
<circle cx="1857.50" cy="765.65" r="28.75" fill="#b4c7e7" stroke="#1f3864" stroke-width="3"/>
<circle cx="1923.15" cy="765.65" r="28.75" fill="#b4c7e7" stroke="#1f3864" stroke-width="3"/>
<circle cx="1988.80" cy="765.65" r="28.75" fill="#bfaca8" stroke="#8b7168" stroke-width="3"/>
<circle cx="2054.45" cy="765.65" r="28.75" fill="#b4c7e7" stroke="#1f3864" stroke-width="3"/>
<circle cx="2120.10" cy="765.65" r="28.75" fill="#b4c7e7" stroke="#1f3864" stroke-width="3"/>
<circle cx="2185.75" cy="765.65" r="28.75" fill="#b4c7e7" stroke="#1f3864" stroke-width="3"/>
<path d="M2103.9 767.6L2115.3 780.2L2134.3 747.0" fill="none" stroke="#fff" stroke-width="5.3" stroke-linecap="round" stroke-linejoin="round" />
<path d="M2275.5 493.1H2250" fill="none" stroke="#548235" stroke-width="4.3"/>
<path d="M2264.6 481.2L2249.7 493.1L2264.6 505.0" fill="none" stroke="#548235" stroke-width="4.6" stroke-linejoin="miter" stroke-miterlimit="10"/>
<path d="M2275.5 585.4H2250" fill="none" stroke="#c00000" stroke-width="4.3"/>
<path d="M2264.6 573.5L2249.7 585.4L2264.6 597.2" fill="none" stroke="#c00000" stroke-width="4.6" stroke-linejoin="miter" stroke-miterlimit="10"/>
<path d="M2275.5 676.9H2250" fill="none" stroke="#c00000" stroke-width="4.3"/>
<path d="M2264.6 665.0L2249.7 676.9L2264.6 688.8" fill="none" stroke="#c00000" stroke-width="4.6" stroke-linejoin="miter" stroke-miterlimit="10"/>
<path d="M2275.5 770.6H2250" fill="none" stroke="#c00000" stroke-width="4.3"/>
<path d="M2264.6 758.7L2249.7 770.6L2264.6 782.5" fill="none" stroke="#c00000" stroke-width="4.6" stroke-linejoin="miter" stroke-miterlimit="10"/>
<path d="M348.9 1141.3L353 1138.9Q355.6 1140.4 357.2 1144.6Q365.5 1133.0 377.6 1124.3L378.5 1125.7Q367.5 1136.5 360.9 1148.4Q358.6 1151.4 355.4 1153.0Q352.6 1145.6 348.9 1141.3Z" fill="#1f4e79"/>
<path d="M348.9 1193.0L353 1190.7Q355.6 1192.2 357.2 1196.3Q365.5 1184.8 377.6 1176.0L378.5 1177.5Q367.5 1188.2 360.9 1200.2Q358.6 1203.2 355.4 1204.8Q352.6 1197.3 348.9 1193.0Z" fill="#1f4e79"/>
<path d="M348.9 1244.3L353 1241.9Q355.6 1243.4 357.2 1247.6Q365.5 1236.0 377.6 1227.3L378.5 1228.7Q367.5 1239.5 360.9 1251.4Q358.6 1254.4 355.4 1256.0Q352.6 1248.6 348.9 1244.3Z" fill="#1f4e79"/>
<g fill="#fff"><rect x="96" y="1338" width="295" height="2.4"/><rect x="96" y="1394.3" width="295" height="2.4"/></g>
<path d="M285 1352.5L291 1352.5M282 1355.5L294 1355.5M284.4 1360.3a3.6 2.9 0 1 0 7.2 0a3.6 2.9 0 1 0 -7.2 0M296.5 1351.5L296.5 1366M296.5 1358.5L299.5 1358.5M285 1365L285 1371.5M285 1371.5L299 1371.5M303.8 1357a4.2 4.2 0 1 0 8.4 0a4.2 4.2 0 1 0 -8.4 0M317 1351.5L317 1364M317 1355L320 1355M317 1359.5L320 1359.5M308.1 1369a4.4 3.2 0 1 0 8.8 0a4.4 3.2 0 1 0 -8.8 0M324.5 1353.5L332 1353.5M324.5 1353.5L324.5 1367.5M324.5 1367.5L332.5 1367.5M336 1352L336 1371.5M336 1360L340.5 1360M340.5 1351.5L340.5 1372.5M349 1351.8L355 1351.8M346 1354.8L358 1354.8M348.4 1359.3a3.6 2.7 0 1 0 7.2 0a3.6 2.7 0 1 0 -7.2 0M360.5 1351.5L360.5 1364.5M360.5 1358L363.5 1358M348.5 1367L360.5 1367M360.5 1367L360.5 1372.5M368 1353.5L382 1353.5M382 1353.5L381.5 1364M372.5 1361.5L372.5 1369.5M378 1361.5L378 1369.5M366 1370L385 1370" fill="none" stroke="#fff" stroke-width="2.3" stroke-linecap="butt"/>
</svg>
<span class="t" style="left:148.00px;top:52.14px;font-size:27px;color:#a6a6a6;font-style:italic;transform:scaleX(1.1320)">BlendX : Complex Multi-intent Detection with Blended Patterns</span>
<span class="t tk1" style="left:147.92px;top:83.89px;font-size:69px;color:#595959;font-weight:700;transform:scaleX(1.0198)">Evaluation</span>
<span class="t tk1" style="left:517.73px;top:83.89px;font-size:69px;color:#595959;font-weight:700;transform:scaleX(1.0222)">#2</span>
<span class="t tk1" style="left:612.04px;top:83.89px;font-size:69px;color:#595959;font-weight:700;transform:scaleX(0.8571)">–</span>
<span class="t tk1" style="left:663.63px;top:83.89px;font-size:69px;color:#595959;font-weight:700;transform:scaleX(0.9682)">BlendX</span>
<span class="t tk1" style="left:913.75px;top:83.89px;font-size:69px;color:#595959;font-weight:700;transform:scaleX(0.9537)">vs.</span>
<span class="t tk1" style="left:1019.87px;top:83.89px;font-size:69px;color:#595959;font-weight:700;transform:scaleX(0.9712)">MixX</span>
<span class="t tk1" style="left:1196.83px;top:83.89px;font-size:69px;color:#595959;font-weight:700;transform:scaleX(1.0578)">(1/2)</span>
<span class="t tk2" style="left:182.53px;top:238.10px;font-size:49.5px;color:#1f4e79;font-weight:700;transform:scaleX(0.9840)">Comparison</span>
<span class="t tk2" style="left:478.09px;top:238.10px;font-size:49.5px;color:#1f4e79;font-weight:700;transform:scaleX(0.9716)">BlendX</span>
<span class="t tk2" style="left:655.00px;top:238.10px;font-size:49.5px;color:#1f4e79;font-weight:700;transform:scaleX(1.0443)">to</span>
<span class="t tk2" style="left:717.61px;top:238.10px;font-size:49.5px;color:#1f4e79;font-weight:700;transform:scaleX(0.9621)">MixX</span>
<span class="t tk2" style="left:841.85px;top:238.10px;font-size:49.5px;color:#1f4e79;font-weight:700;transform:scaleX(0.9487)">(SOTA</span>
<span class="t tk2" style="left:994.52px;top:238.10px;font-size:49.5px;color:#1f4e79;font-weight:700;transform:scaleX(0.9942)">baselines)</span>
<span class="t" style="left:185.63px;top:339.46px;font-size:31.0px;color:#000;font-weight:700;transform:scaleX(0.9367)">Model</span>
<span class="t" style="left:436.59px;top:322.76px;font-size:31.0px;color:#000;font-weight:700;transform:scaleX(0.9140)">Option</span>
<span class="t" style="left:357.50px;top:372.86px;font-size:31.0px;color:#000;font-weight:700;transform:scaleX(0.9167)">Training</span>
<span class="t" style="left:533.75px;top:372.86px;font-size:31.0px;color:#000;font-weight:700;transform:scaleX(0.8999)">Test</span>
<span class="t" style="left:701.25px;top:372.86px;font-size:31.0px;color:#000;font-weight:700;transform:scaleX(0.9068)">SNIPS</span>
<span class="t" style="left:935.00px;top:372.86px;font-size:31.0px;color:#000;font-weight:700;transform:scaleX(0.8871)">ATIS</span>
<span class="t" style="left:1109.41px;top:372.86px;font-size:31.0px;color:#000;font-weight:700;transform:scaleX(0.9200)">Banking77</span>
<span class="t" style="left:1325.33px;top:372.86px;font-size:31.0px;color:#000;font-weight:700;transform:scaleX(0.9189)">CLINC150</span>
<span class="t" style="left:887.68px;top:322.06px;font-size:31.0px;color:#000;font-weight:700;transform:scaleX(0.9118)">Dataset</span>
<span class="t" style="left:999.08px;top:322.06px;font-size:31.0px;color:#000;font-weight:700;transform:scaleX(0.9173)">(Metric: accuracy)</span>
<span class="t" style="left:189.00px;top:467.66px;font-size:31.0px;color:#000;transform:scaleX(0.9152)">TFMN</span>
<span class="t" style="left:194.37px;top:622.16px;font-size:31.0px;color:#000;transform:scaleX(0.9305)">SLIM</span>
<span class="t" style="left:145.33px;top:750.66px;font-size:31.0px;color:#000;transform:scaleX(0.9201)">gpt-3.5-turbo</span>
<span class="t" style="left:380.06px;top:425.66px;font-size:31.0px;color:#000;transform:scaleX(0.9195)">MixX</span>
<span class="t" style="left:529.16px;top:425.66px;font-size:31.0px;color:#000;transform:scaleX(0.9195)">MixX</span>
<span class="t" style="left:380.06px;top:476.36px;font-size:31.0px;color:#000;transform:scaleX(0.9195)">MixX</span>
<span class="t" style="left:515.59px;top:476.36px;font-size:31.0px;color:#000;transform:scaleX(0.9055)">BlendX</span>
<span class="t" style="left:366.49px;top:526.96px;font-size:31.0px;color:#000;transform:scaleX(0.9055)">BlendX</span>
<span class="t" style="left:515.59px;top:526.96px;font-size:31.0px;color:#000;transform:scaleX(0.9055)">BlendX</span>
<span class="t" style="left:380.06px;top:580.66px;font-size:31.0px;color:#000;transform:scaleX(0.9195)">MixX</span>
<span class="t" style="left:529.16px;top:580.66px;font-size:31.0px;color:#000;transform:scaleX(0.9195)">MixX</span>
<span class="t" style="left:380.06px;top:631.16px;font-size:31.0px;color:#000;transform:scaleX(0.9195)">MixX</span>
<span class="t" style="left:515.59px;top:631.16px;font-size:31.0px;color:#000;transform:scaleX(0.9055)">BlendX</span>
<span class="t" style="left:366.49px;top:681.86px;font-size:31.0px;color:#000;transform:scaleX(0.9055)">BlendX</span>
<span class="t" style="left:515.59px;top:681.86px;font-size:31.0px;color:#000;transform:scaleX(0.9055)">BlendX</span>
<span class="t" style="left:408.30px;top:734.86px;font-size:31.0px;color:#000;transform:scaleX(0.9000)">-</span>
<span class="t" style="left:529.16px;top:734.86px;font-size:31.0px;color:#000;transform:scaleX(0.9195)">MixX</span>
<span class="t" style="left:408.30px;top:785.16px;font-size:31.0px;color:#000;transform:scaleX(0.9000)">-</span>
<span class="t" style="left:515.59px;top:785.16px;font-size:31.0px;color:#000;transform:scaleX(0.9055)">BlendX</span>
<span class="t" style="left:656.51px;top:425.66px;font-size:31.0px;color:#000;transform:scaleX(0.8896)">95.68*</span>
<span class="t se" style="left:772.50px;top:427.76px;font-size:28.7px;color:#000;transform:scaleX(1.1300)">0.57</span>
<span class="t" style="left:878.91px;top:425.66px;font-size:31.0px;color:#000;transform:scaleX(0.8896)">77.98*</span>
<span class="t se" style="left:994.90px;top:427.76px;font-size:28.7px;color:#000;transform:scaleX(1.1300)">0.57</span>
<span class="t" style="left:1100.71px;top:425.66px;font-size:31.0px;color:#000;transform:scaleX(0.8894)">76.61</span>
<span class="t se" style="left:1204.90px;top:427.76px;font-size:28.7px;color:#000;transform:scaleX(1.1300)">1.17</span>
<span class="t" style="left:1311.71px;top:425.66px;font-size:31.0px;color:#000;transform:scaleX(0.8894)">85.88</span>
<span class="t se" style="left:1415.90px;top:427.76px;font-size:28.7px;color:#000;transform:scaleX(1.1300)">1.03</span>
<span class="t" style="left:661.81px;top:476.36px;font-size:31.0px;color:#000;transform:scaleX(0.8894)">52.51</span>
<span class="t se" style="left:766.00px;top:478.46px;font-size:28.7px;color:#000;transform:scaleX(1.1300)">1.86</span>
<span class="t" style="left:885.10px;top:476.36px;font-size:31.0px;color:#000;transform:scaleX(0.8777)">42.51</span>
<span class="t se" style="left:988.40px;top:478.46px;font-size:28.7px;color:#000;transform:scaleX(1.1300)">1.48</span>
<span class="t" style="left:1100.71px;top:476.36px;font-size:31.0px;color:#000;transform:scaleX(0.8894)">37.31</span>
<span class="t se" style="left:1204.90px;top:478.46px;font-size:28.7px;color:#000;transform:scaleX(1.1300)">0.81</span>
<span class="t" style="left:1312.60px;top:476.36px;font-size:31.0px;color:#000;transform:scaleX(0.8777)">42.45</span>
<span class="t se" style="left:1415.90px;top:478.46px;font-size:28.7px;color:#000;transform:scaleX(1.1300)">2.40</span>
<span class="t" style="left:661.81px;top:526.96px;font-size:31.0px;color:#000;transform:scaleX(0.8894)">94.93</span>
<span class="t se" style="left:766.00px;top:529.06px;font-size:28.7px;color:#000;transform:scaleX(1.1300)">0.85</span>
<span class="t" style="left:884.22px;top:526.96px;font-size:31.0px;color:#000;transform:scaleX(0.8777)">76.50</span>
<span class="t se" style="left:988.40px;top:529.06px;font-size:28.7px;color:#000;transform:scaleX(1.1300)">0.83</span>
<span class="t" style="left:1100.71px;top:526.96px;font-size:31.0px;color:#000;transform:scaleX(0.8894)">63.99</span>
<span class="t se" style="left:1204.90px;top:529.06px;font-size:28.7px;color:#000;transform:scaleX(1.1300)">0.81</span>
<span class="t" style="left:1311.71px;top:526.96px;font-size:31.0px;color:#000;transform:scaleX(0.8894)">77.96</span>
<span class="t se" style="left:1415.90px;top:529.06px;font-size:28.7px;color:#000;transform:scaleX(1.1300)">0.82</span>
<span class="t" style="left:656.51px;top:580.66px;font-size:31.0px;color:#000;transform:scaleX(0.8896)">95.97*</span>
<span class="t se" style="left:772.50px;top:582.76px;font-size:28.7px;color:#000;transform:scaleX(1.1300)">0.23</span>
<span class="t" style="left:878.91px;top:580.66px;font-size:31.0px;color:#000;transform:scaleX(0.8896)">77.10*</span>
<span class="t se" style="left:994.90px;top:582.76px;font-size:28.7px;color:#000;transform:scaleX(1.1300)">0.28</span>
<span class="t" style="left:1100.71px;top:580.66px;font-size:31.0px;color:#000;transform:scaleX(0.8894)">83.71</span>
<span class="t se" style="left:1204.90px;top:582.76px;font-size:28.7px;color:#000;transform:scaleX(1.1300)">0.88</span>
<span class="t" style="left:1311.71px;top:580.66px;font-size:31.0px;color:#000;transform:scaleX(0.8894)">88.67</span>
<span class="t se" style="left:1415.90px;top:582.76px;font-size:28.7px;color:#000;transform:scaleX(1.1300)">0.56</span>
<span class="t" style="left:661.81px;top:631.16px;font-size:31.0px;color:#000;transform:scaleX(0.8894)">93.51</span>
<span class="t se" style="left:766.00px;top:633.26px;font-size:28.7px;color:#000;transform:scaleX(1.1300)">0.18</span>
<span class="t" style="left:884.22px;top:631.16px;font-size:31.0px;color:#000;transform:scaleX(0.8777)">72.80</span>
<span class="t se" style="left:988.40px;top:633.26px;font-size:28.7px;color:#000;transform:scaleX(1.1300)">1.48</span>
<span class="t" style="left:1100.71px;top:631.16px;font-size:31.0px;color:#000;transform:scaleX(0.8894)">69.89</span>
<span class="t se" style="left:1204.90px;top:633.26px;font-size:28.7px;color:#000;transform:scaleX(1.1300)">0.46</span>
<span class="t" style="left:1311.71px;top:631.16px;font-size:31.0px;color:#000;transform:scaleX(0.8894)">73.39</span>
<span class="t se" style="left:1415.90px;top:633.26px;font-size:28.7px;color:#000;transform:scaleX(1.1300)">2.46</span>
<span class="t" style="left:661.81px;top:681.86px;font-size:31.0px;color:#000;transform:scaleX(0.8894)">95.73</span>
<span class="t se" style="left:766.00px;top:683.96px;font-size:28.7px;color:#000;transform:scaleX(1.1300)">0.86</span>
<span class="t" style="left:884.21px;top:681.86px;font-size:31.0px;color:#000;transform:scaleX(0.8894)">76.92</span>
<span class="t se" style="left:988.40px;top:683.96px;font-size:28.7px;color:#000;transform:scaleX(1.1300)">0.84</span>
<span class="t" style="left:1100.72px;top:681.86px;font-size:31.0px;color:#000;transform:scaleX(0.8777)">75.30</span>
<span class="t se" style="left:1204.90px;top:683.96px;font-size:28.7px;color:#000;transform:scaleX(1.1300)">0.71</span>
<span class="t" style="left:1311.71px;top:681.86px;font-size:31.0px;color:#000;transform:scaleX(0.8894)">85.62</span>
<span class="t se" style="left:1415.90px;top:683.96px;font-size:28.7px;color:#000;transform:scaleX(1.1300)">0.51</span>
<span class="t" style="left:706.98px;top:734.86px;font-size:31.0px;color:#000;transform:scaleX(0.9212)">81.68</span>
<span class="t" style="left:930.30px;top:734.86px;font-size:31.0px;color:#000;transform:scaleX(0.8974)">40.30</span>
<span class="t" style="left:1145.89px;top:734.86px;font-size:31.0px;color:#000;transform:scaleX(0.9092)">30.90</span>
<span class="t" style="left:1357.80px;top:734.86px;font-size:31.0px;color:#000;transform:scaleX(0.9092)">49.22</span>
<span class="t" style="left:706.98px;top:785.16px;font-size:31.0px;color:#000;transform:scaleX(0.9212)">76.18</span>
<span class="t" style="left:929.39px;top:785.16px;font-size:31.0px;color:#000;transform:scaleX(0.9092)">38.84</span>
<span class="t" style="left:1145.88px;top:785.16px;font-size:31.0px;color:#000;transform:scaleX(0.9212)">22.67</span>
<span class="t" style="left:1356.88px;top:785.16px;font-size:31.0px;color:#000;transform:scaleX(0.9212)">37.55</span>
<span class="t" style="left:1598.75px;top:227.49px;font-size:39px;color:#1f4e79;font-weight:700;transform:scaleX(0.9592)">Accuracy</span>
<span class="t" style="left:1777.84px;top:227.49px;font-size:39px;color:#1f4e79;transform:scaleX(1.0782)">in</span>
<span class="t" style="left:1819.25px;top:227.49px;font-size:39px;color:#1f4e79;transform:scaleX(1.0834)">Multi-label</span>
<span class="t" style="left:2021.47px;top:227.49px;font-size:39px;color:#1f4e79;transform:scaleX(1.0350)">Classification</span>
<span class="t" style="left:1595.78px;top:277.10px;font-size:34.5px;color:#000;transform:scaleX(1.2200)">:</span>
<span class="t" style="left:1613.97px;top:277.10px;font-size:34.5px;color:#000;transform:scaleX(1.0311)">only</span>
<span class="t" style="left:1688.97px;top:277.10px;font-size:34.5px;color:#000;transform:scaleX(1.0342)">considered</span>
<span class="t" style="left:1869.63px;top:277.10px;font-size:34.5px;color:#000;transform:scaleX(1.2200)">it</span>
<span class="t" style="left:1900.17px;top:277.10px;font-size:34.5px;color:#000;transform:scaleX(1.0782)">correct</span>
<span class="t" style="left:2018.93px;top:277.10px;font-size:34.5px;color:#000;transform:scaleX(1.1582)">in</span>
<span class="t" style="left:2056.56px;top:277.10px;font-size:34.5px;color:#000;transform:scaleX(0.9388)">cases</span>
<span class="t" style="left:2148.33px;top:277.10px;font-size:34.5px;color:#000;transform:scaleX(1.1707)">of</span>
<span class="t" style="left:2189.14px;top:277.10px;font-size:34.5px;color:#000;transform:scaleX(0.8553)">a</span>
<span class="t" style="left:2214.00px;top:277.10px;font-size:34.5px;color:#000;font-weight:700;transform:scaleX(0.9972)">exact</span>
<span class="t" style="left:2310.40px;top:277.10px;font-size:34.5px;color:#000;font-weight:700;transform:scaleX(1.0509)">match</span>
<span class="t" style="left:2414.15px;top:277.10px;font-size:34.5px;color:#000;transform:scaleX(1.2200)">.</span>
<span class="t tk5" style="left:1655.79px;top:355.37px;font-size:35px;color:#000;font-weight:700;transform:scaleX(1.0058)">Label</span>
<span class="t tk5" style="left:1604.04px;top:477.80px;font-size:34.5px;color:#000;transform:scaleX(0.9797)">Prediction</span>
<span class="t tk5" style="left:1759.84px;top:477.80px;font-size:34.5px;color:#000;transform:scaleX(0.8531)">1</span>
<span class="t tk5" style="left:1604.04px;top:570.05px;font-size:34.5px;color:#000;transform:scaleX(0.9797)">Prediction</span>
<span class="t tk5" style="left:1758.85px;top:570.05px;font-size:34.5px;color:#000;transform:scaleX(0.9500)">2</span>
<span class="t tk5" style="left:1604.04px;top:661.55px;font-size:34.5px;color:#000;transform:scaleX(0.9797)">Prediction</span>
<span class="t tk5" style="left:1758.85px;top:661.55px;font-size:34.5px;color:#000;transform:scaleX(0.9500)">3</span>
<span class="t tk5" style="left:1604.04px;top:755.30px;font-size:34.5px;color:#000;transform:scaleX(0.9797)">Prediction</span>
<span class="t tk5" style="left:1759.05px;top:755.30px;font-size:34.5px;color:#000;transform:scaleX(0.9158)">4</span>
<span class="t tk3" style="left:2285.40px;top:475.90px;font-size:36.5px;color:#548235;transform:scaleX(0.8961)">answer</span>
<span class="t tk3" style="left:2287.22px;top:568.15px;font-size:36.5px;color:#c00000;transform:scaleX(0.9214)">wrong</span>
<span class="t tk3" style="left:2287.22px;top:659.65px;font-size:36.5px;color:#c00000;transform:scaleX(0.9214)">wrong</span>
<span class="t tk3" style="left:2287.22px;top:753.40px;font-size:36.5px;color:#c00000;transform:scaleX(0.9214)">wrong</span>
<span class="t thin-b" style="left:189.23px;top:889.46px;font-size:48.6px;color:#fff;transform:scaleX(0.9217)">For</span>
<span class="t thin-b" style="left:270.00px;top:889.46px;font-size:48.6px;color:#fff;transform:scaleX(0.9977)">various</span>
<span class="t thin-b" style="left:436.90px;top:889.46px;font-size:48.6px;color:#fff;transform:scaleX(0.9231)">SOTA</span>
<span class="t thin-b" style="left:566.91px;top:889.46px;font-size:48.6px;color:#fff;transform:scaleX(1.0312)">models,</span>
<span class="t thin-b" style="left:753.42px;top:889.46px;font-size:48.6px;color:#fff;transform:scaleX(0.9207)">we</span>
<span class="t thin-b" style="left:821.71px;top:889.46px;font-size:48.6px;color:#fff;transform:scaleX(1.0195)">consistently</span>
<span class="t thin-b" style="left:1094.21px;top:889.46px;font-size:48.6px;color:#fff;transform:scaleX(1.0216)">observe</span>
<span class="t thin-b" style="left:1275.87px;top:889.46px;font-size:48.6px;color:#fff;transform:scaleX(0.8173)">a</span>
<span class="t thin-b" style="left:1311.98px;top:889.46px;font-size:48.6px;color:#ffc000;transform:scaleX(1.0065)">huge</span>
<span class="t thin-b" style="left:1431.95px;top:889.46px;font-size:48.6px;color:#ffc000;transform:scaleX(1.0177)">performance</span>
<span class="t thin-b" style="left:1720.38px;top:889.46px;font-size:48.6px;color:#ffc000;transform:scaleX(1.0592)">drop</span>
<span class="t thin-b" style="left:1866.66px;top:889.46px;font-size:48.6px;color:#fff;transform:scaleX(1.0454)">on</span>
<span class="t thin-b" style="left:1932.94px;top:889.46px;font-size:48.6px;color:#fff;transform:scaleX(1.0286)">our</span>
<span class="t thin-b2" style="left:2018.36px;top:890.48px;font-size:47.4px;color:#fff;font-weight:700;transform:scaleX(0.9618)">BlendX</span>
<span class="t thin-b" style="left:2185.48px;top:889.46px;font-size:48.6px;color:#fff;transform:scaleX(1.0116)">datasets</span>
<span class="t thin-b" style="left:781.02px;top:952.61px;font-size:48.6px;color:#fff;transform:scaleX(1.0220)">with</span>
<span class="t thin-b" style="left:881.68px;top:952.61px;font-size:48.6px;color:#fff;transform:scaleX(1.0372)">explicit</span>
<span class="t thin-b" style="left:1045.78px;top:952.61px;font-size:48.6px;color:#fff;transform:scaleX(0.8589)">as</span>
<span class="t thin-b" style="left:1107.26px;top:952.61px;font-size:48.6px;color:#fff;transform:scaleX(1.0071)">well</span>
<span class="t thin-b" style="left:1201.93px;top:952.61px;font-size:48.6px;color:#fff;transform:scaleX(0.9110)">as</span>
<span class="t thin-b" style="left:1259.21px;top:952.61px;font-size:48.6px;color:#fff;transform:scaleX(1.0960)">implicit</span>
<span class="t thin-b" style="left:1434.20px;top:952.61px;font-size:48.6px;color:#fff;transform:scaleX(1.0264)">concatenations.</span>
<span class="t thin-w" style="left:260.25px;top:1068.15px;font-size:45.3px;color:#1f4e79;transform:scaleX(0.9965)">3-Baseline:</span>
<span class="t thin-w" style="left:494.58px;top:1068.15px;font-size:45.3px;color:#1f4e79;transform:scaleX(0.9739)">implemented</span>
<span class="t thin-w" style="left:760.02px;top:1068.15px;font-size:45.3px;color:#1f4e79;transform:scaleX(1.0246)">without</span>
<span class="t thin-w" style="left:919.00px;top:1068.15px;font-size:45.3px;color:#1f4e79;transform:scaleX(1.0021)">slot-filling</span>
<span class="t thin-w" style="left:1117.95px;top:1068.15px;font-size:45.3px;color:#1f4e79;transform:scaleX(1.0266)">part</span>
<span class="t" style="left:454.25px;top:1125.26px;font-size:37.5px;color:#1f4e79;font-weight:700;transform:scaleX(0.9554)">TFMN</span>
<span class="t thin-w2" style="left:562.16px;top:1124.69px;font-size:38.4px;color:#1f4e79;transform:scaleX(1.2200)">:</span>
<span class="t thin-w2" style="left:582.91px;top:1124.69px;font-size:38.4px;color:#1f4e79;transform:scaleX(1.0457)">predict</span>
<span class="t thin-w2" style="left:715.00px;top:1124.69px;font-size:38.4px;color:#1f4e79;transform:scaleX(0.8523)">#</span>
<span class="t thin-w2" style="left:742.71px;top:1124.69px;font-size:38.4px;color:#1f4e79;transform:scaleX(1.0366)">of</span>
<span class="t thin-w2" style="left:785.41px;top:1124.69px;font-size:38.4px;color:#1f4e79;transform:scaleX(1.0463)">intents</span>
<span class="t thin-w2" style="left:936.16px;top:1124.69px;font-size:38.4px;color:#1f4e79;transform:scaleX(1.2200)">,</span>
<span class="t thin-w2" style="left:955.23px;top:1124.69px;font-size:38.4px;color:#1f4e79;transform:scaleX(1.0173)">and</span>
<span class="t thin-w2" style="left:1032.00px;top:1124.69px;font-size:38.4px;color:#1f4e79;transform:scaleX(1.0433)">then</span>
<span class="t thin-w2" style="left:1119.00px;top:1124.69px;font-size:38.4px;color:#1f4e79;transform:scaleX(1.0862)">top-</span>
<span class="t thin-w2" style="left:1222.91px;top:1124.69px;font-size:38.4px;color:#1f4e79;transform:scaleX(1.0463)">intents</span>
<span class="t thin-w2" style="left:1351.52px;top:1124.69px;font-size:38.4px;color:#1f4e79;transform:scaleX(0.9811)">over</span>
<span class="t thin-w2" style="left:1437.50px;top:1124.69px;font-size:38.4px;color:#1f4e79;transform:scaleX(1.0189)">the</span>
<span class="t thin-w2" style="left:1501.64px;top:1124.69px;font-size:38.4px;color:#1f4e79;transform:scaleX(1.0573)">probability</span>
<span class="t thin-w2" style="left:1698.92px;top:1124.69px;font-size:38.4px;color:#1f4e79;transform:scaleX(1.0779)">distribution</span>
<span class="t se" style="left:915.00px;top:1124.34px;font-size:39px;color:#1f4e79;font-weight:700;font-style:italic;transform:scaleX(1.0625)">k</span>
<span class="t se" style="left:1192.50px;top:1124.34px;font-size:39px;color:#1f4e79;font-weight:700;font-style:italic;transform:scaleX(1.0625)">k</span>
<span class="t" style="left:453.31px;top:1177.01px;font-size:37.5px;color:#1f4e79;font-weight:700;transform:scaleX(0.9411)">SLIM</span>
<span class="t thin-w2" style="left:545.16px;top:1176.44px;font-size:38.4px;color:#1f4e79;transform:scaleX(1.2200)">:</span>
<span class="t thin-w2" style="left:568.75px;top:1176.44px;font-size:38.4px;color:#1f4e79;transform:scaleX(1.0166)">threshold-based</span>
<span class="t thin-w2" style="left:857.72px;top:1176.44px;font-size:38.4px;color:#1f4e79;transform:scaleX(1.0267)">classification</span>
<span class="t thin-w2" style="left:1091.65px;top:1176.44px;font-size:38.4px;color:#1f4e79;transform:scaleX(1.0497)">model</span>
<span class="t thin-w2" style="left:1210.50px;top:1176.44px;font-size:38.4px;color:#1f4e79">using</span>
<span class="t thin-w2" style="left:1311.46px;top:1176.44px;font-size:38.4px;color:#1f4e79;transform:scaleX(1.0373)">sigmoid</span>
<span class="t thin-w2" style="left:1458.75px;top:1176.44px;font-size:38.4px;color:#1f4e79;transform:scaleX(1.0692)">function</span>
<span class="t" style="left:453.29px;top:1228.26px;font-size:37.5px;color:#1f4e79;font-weight:700;transform:scaleX(0.9607)">ChatGPT</span>
<span class="t thin-w2" style="left:616.16px;top:1227.69px;font-size:38.4px;color:#1f4e79;transform:scaleX(1.2200)">:</span>
<span class="t thin-w2" style="left:636.52px;top:1227.69px;font-size:38.4px;color:#1f4e79;transform:scaleX(0.9757)">OpenAI’s</span>
<span class="t thin-w2" style="left:799.00px;top:1227.69px;font-size:38.4px;color:#1f4e79;transform:scaleX(1.0032)">generative</span>
<span class="t thin-w2" style="left:987.83px;top:1227.69px;font-size:38.4px;color:#1f4e79;transform:scaleX(1.0871)">model</span>
<span class="t thin-w2" style="left:1109.86px;top:1227.69px;font-size:38.4px;color:#1f4e79;transform:scaleX(0.8182)">(</span>
<span class="t thin-w2" style="left:1527.50px;top:1227.69px;font-size:38.4px;color:#1f4e79;transform:scaleX(0.8182)">)</span>
<span class="t se" style="left:1120.44px;top:1228.17px;font-size:38px;color:#1f4e79;font-weight:700;transform:scaleX(1.0644)">gpt—3.5—turbo—0613</span>
<span class="t tk4" style="left:1093.37px;top:1336.01px;font-size:25.5px;color:#fff;transform:scaleX(0.9664)">Natural Language Processing Lab.,</span>
<span class="t tk4" style="left:1173.40px;top:1366.71px;font-size:25.5px;color:#fff">Hanyang University.</span>
<span class="t tk4" style="left:2401.55px;top:1354.60px;font-size:22.8px;color:#fff;transform:scaleX(0.9502)">28</span>
<span class="t se" style="left:95.69px;top:1325.29px;font-size:83px;color:#fff;font-weight:700;letter-spacing:-10px;transform:scaleX(1.0142)">HYU</span>
<span class="t" style="left:283.40px;top:1376.67px;font-size:10.2px;color:#fff;font-weight:700;transform:scaleX(0.8733)">HANYANG UNIVERSITY</span>
</body></html>
